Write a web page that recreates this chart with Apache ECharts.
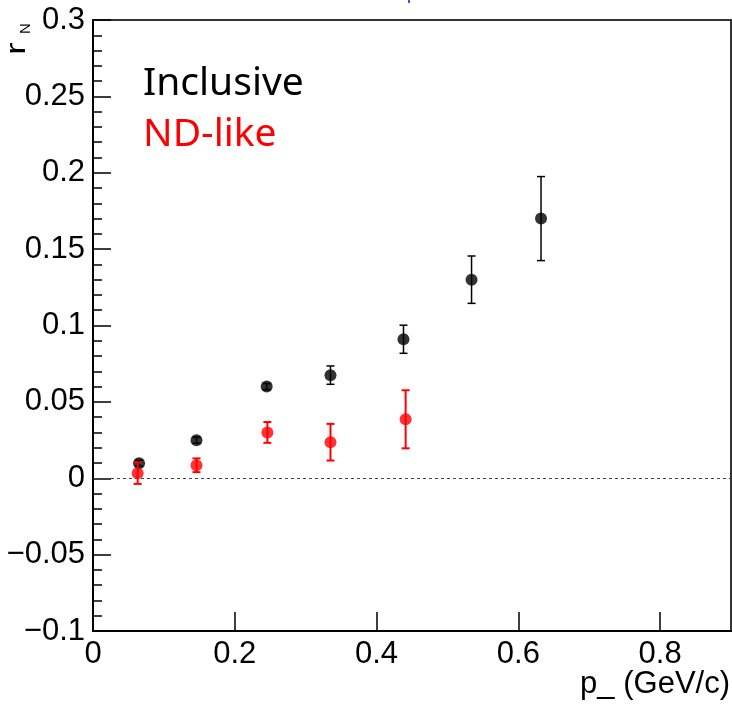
<!DOCTYPE html>
<html>
<head>
<meta charset="utf-8">
<script src="https://cdn.jsdelivr.net/npm/echarts@6/dist/echarts.min.js"></script>
<style>
  html, body { margin: 0; padding: 0; background: #fff; }
  #chart { width: 732px; height: 704px; }
</style>
</head>
<body>
<div id="chart"></div>
<script>
// values
const xInc = [0.065, 0.146, 0.245, 0.335, 0.438, 0.534, 0.632]
const yInc = [0.0098, 0.0249, 0.060, 0.0675, 0.091, 0.130, 0.170]
const errInc = [0.002, 0.002, 0.002, 0.006, 0.0092, 0.0155, 0.0275]

const xND = [0.063, 0.146, 0.246, 0.335, 0.441]
const yND = [0.0033, 0.0085, 0.030, 0.0236, 0.0386]
const errND = [0.007, 0.0045, 0.0068, 0.012, 0.019]

const labelFont = 'Liberation Sans'

const chart = echarts.init(document.getElementById('chart'), null, { renderer: 'canvas' })

const toPoints = (xs, ys) => xs.map((x, i) => [x, ys[i]])
const toErrors = (xs, ys, es) => xs.map((x, i) => [x, ys[i] - es[i], ys[i] + es[i]])

const errorBars = (color, width) => (params, api) => {
  const lo = api.coord([api.value(0), api.value(1)])
  const hi = api.coord([api.value(0), api.value(2)])
  const cap = 4
  const style = { stroke: color, lineWidth: width }
  return {
    type: 'group',
    children: [
      { type: 'line', shape: { x1: lo[0], y1: lo[1], x2: hi[0], y2: hi[1] }, style },
      { type: 'line', shape: { x1: lo[0] - cap, y1: lo[1], x2: lo[0] + cap, y2: lo[1] }, style },
      { type: 'line', shape: { x1: hi[0] - cap, y1: hi[1], x2: hi[0] + cap, y2: hi[1] }, style }
    ]
  }
}

chart.setOption({
  animation: false,
  grid: {
    left: 93, right: 1, top: 20, bottom: 73,
    show: true, borderColor: '#333', borderWidth: 2
  },
  xAxis: {
    type: 'value',
    min: 0, max: 0.9, interval: 0.2,
    splitLine: { show: false },
    axisLine: { onZero: false, lineStyle: { color: '#000', width: 2 } },
    axisTick: { inside: true, length: 19, lineStyle: { color: '#000', width: 1.5 } },
    axisLabel: {
      color: '#000', fontFamily: labelFont, fontSize: 31, margin: 8,
      showMaxLabel: false,
      formatter: v => (v > 0.85 ? '' : String(+v.toFixed(2)))
    }
  },
  yAxis: {
    type: 'value',
    min: -0.1, max: 0.3, interval: 0.05,
    splitLine: { show: false },
    axisLine: { lineStyle: { color: '#000', width: 2 } },
    axisTick: { inside: true, length: 18, lineStyle: { color: '#000', width: 1.5 } },
    minorTick: { show: true, splitNumber: 5, length: 9, lineStyle: { color: '#000', width: 1.5 } },
    axisLabel: {
      color: '#000', fontFamily: labelFont, fontSize: 31, margin: 8,
      formatter: v => String(+v.toFixed(2)).replace('-', '\u2212')
    }
  },
  series: [
    {
      type: 'custom',
      renderItem: errorBars('#000', 1.5),
      data: toErrors(xInc, yInc, errInc),
      z: 2,
      markLine: {
        silent: true,
        symbol: 'none',
        label: { show: false },
        lineStyle: { color: '#444', type: [3, 3], width: 1 },
        data: [{ yAxis: 0 }]
      }
    },
    {
      type: 'scatter',
      symbol: 'circle',
      symbolSize: 12,
      itemStyle: { color: '#000' },
      data: toPoints(xInc, yInc),
      z: 3
    },
    {
      type: 'custom',
      renderItem: errorBars('#ff0000', 2),
      data: toErrors(xND, yND, errND),
      z: 4
    },
    {
      type: 'scatter',
      symbol: 'circle',
      symbolSize: 12,
      itemStyle: { color: '#ff0000' },
      data: toPoints(xND, yND),
      z: 5
    }
  ],
  graphic: [
    {
      type: 'text', x: 143, y: 84,
      style: { text: 'Inclusive', fill: '#000', font: '39px "Noto Sans"', textVerticalAlign: 'middle' }
    },
    {
      type: 'text', x: 143, y: 135,
      style: { text: 'ND-like', fill: '#ff0000', font: '39px "Noto Sans"', textVerticalAlign: 'middle' }
    },
    {
      type: 'text', x: 730, y: 684,
      style: {
        text: 'p_ (GeV/c)', fill: '#000', font: '31px "Liberation Sans"',
        textAlign: 'right', textVerticalAlign: 'middle'
      }
    },
    // rotated y-axis title r_N
    {
      type: 'group', x: 31, y: 55, rotation: Math.PI / 2,
      children: [
        {
          type: 'text', x: 0, y: 0, scaleX: 1.4,
          style: { text: 'r', fill: '#000', font: '27px "Liberation Sans"', textVerticalAlign: 'bottom' }
        },
        {
          type: 'text', x: 21, y: 2,
          style: { text: 'N', fill: '#000', font: '15px "Liberation Sans"', textVerticalAlign: 'bottom' }
        }
      ]
    },
    {
      type: 'rect', shape: { x: 408, y: 0, width: 2, height: 3 },
      style: { fill: '#3355ff' }
    }
  ]
})
</script>
</body>
</html>
